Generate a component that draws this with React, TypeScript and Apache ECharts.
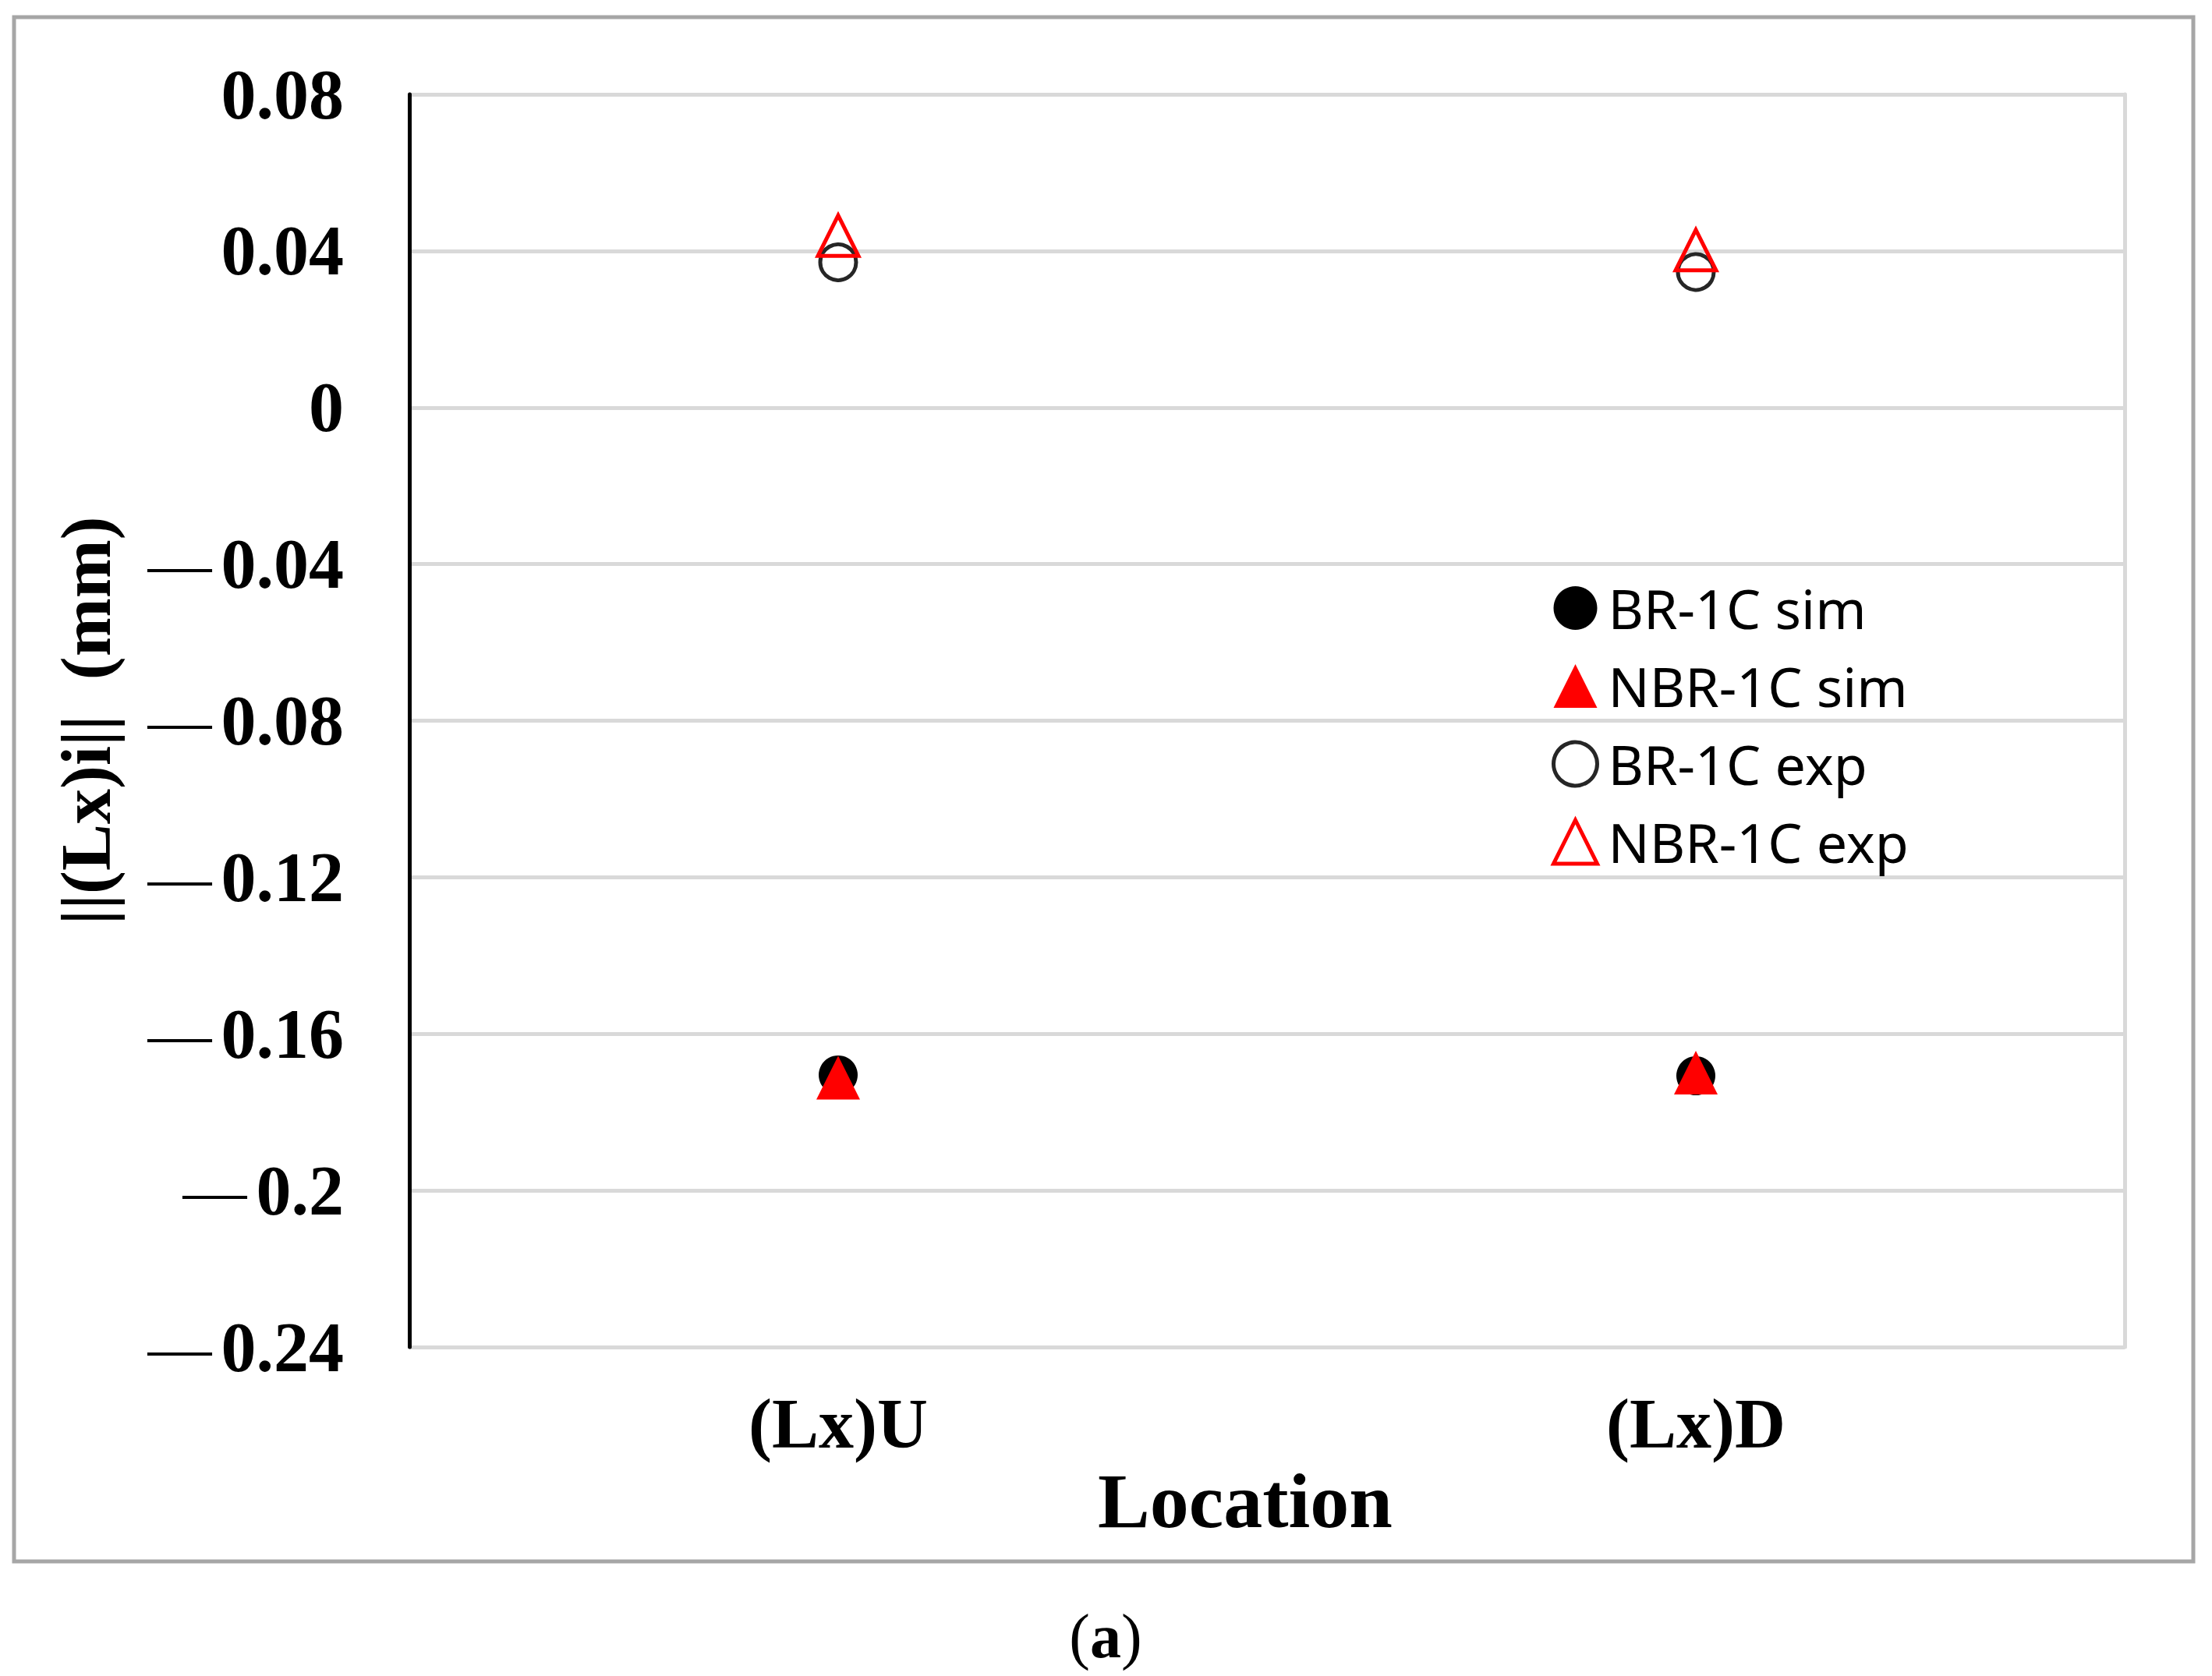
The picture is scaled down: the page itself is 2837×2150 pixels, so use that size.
import { useEffect, useRef } from 'react';
import * as echarts from 'echarts';

// Location categories and values (mm)
const categories = ['(Lx)U', '(Lx)D'];
const brSim = [-0.1705, -0.1707];
const nbrSim = [-0.1712, -0.1699];
const brExp = [0.0371, 0.0346];
const nbrExp = [0.0439, 0.0402];

const seriesNames = ['BR-1C sim', 'NBR-1C sim', 'BR-1C exp', 'NBR-1C exp'];
const yMin = -0.24;
const yMax = 0.08;
const yStep = 0.04;

const SERIF = '"Liberation Serif", "Times New Roman", serif';
const SANS = '"Noto Sans", "Open Sans", sans-serif';

// negative ticks carry a long dash set apart from the digits, as in the original
const formatTick = (v: number) => {
  const s = parseFloat(Math.abs(v).toFixed(2)).toString();
  return v < -1e-9 ? `{d|\u2014}{n|${s}}` : `{n|${s}}`;
};

const hollow = (color: string) => ({
  color: '#ffffff',
  borderColor: color,
  borderWidth: 5,
  opacity: 1,
});

export default function App() {
  const chartRef = useRef<HTMLDivElement>(null);

  useEffect(() => {
    if (!chartRef.current) return;
    const chart = echarts.init(chartRef.current, undefined, { renderer: 'svg' });

    const option: echarts.EChartsOption = {
      animation: false,
      backgroundColor: '#ffffff',
      grid: { left: 525, top: 121, width: 2200, height: 1607 },
      legend: {
        orient: 'vertical',
        left: 1985,
        top: 740,
        itemWidth: 56,
        itemHeight: 56,
        itemGap: 30,
        textStyle: {
          fontFamily: SANS,
          fontSize: 70,
          lineHeight: 56,
          color: '#000',
          padding: [0, 0, 0, 9],
        },
        data: [
          { name: seriesNames[0], icon: 'circle' },
          { name: seriesNames[1], icon: 'triangle' },
          { name: seriesNames[2], icon: 'circle', itemStyle: hollow('#262626') },
          { name: seriesNames[3], icon: 'triangle', itemStyle: hollow('#ff0000') },
        ],
      },
      xAxis: {
        type: 'category',
        data: categories,
        boundaryGap: true,
        axisLine: { show: false },
        axisTick: { show: false },
        splitLine: { show: false },
        axisLabel: {
          margin: 53,
          fontFamily: SERIF,
          fontWeight: 'bold',
          fontSize: 90,
          color: '#000',
        },
        name: 'Location',
        nameLocation: 'middle',
        nameGap: 131,
        nameTextStyle: {
          fontFamily: SERIF,
          fontWeight: 'bold',
          fontSize: 100,
          color: '#000',
          padding: [0, 56, 0, 0],
        },
      },
      yAxis: [
        {
          type: 'value',
          min: yMin,
          max: yMax,
          interval: yStep,
          axisLine: { show: true, lineStyle: { color: '#000', width: 5 } },
          axisTick: { show: false },
          splitLine: { show: true, lineStyle: { color: '#d9d9d9', width: 5 } },
          axisLabel: {
            margin: 84,
            formatter: formatTick,
            fontFamily: SERIF,
            fontWeight: 'bold',
            fontSize: 90,
            color: '#000',
            rich: {
              n: { fontFamily: SERIF, fontWeight: 'bold', fontSize: 90, color: '#000' },
              d: {
                fontFamily: SERIF,
                fontWeight: 'normal',
                fontSize: 82,
                color: '#000',
                padding: [0, 12, 0, 0],
              },
            },
          },
          name: '||(Lx)i||  (mm)',
          nameLocation: 'middle',
          nameGap: 370,
          nameTextStyle: {
            fontFamily: SERIF,
            fontWeight: 'bold',
            fontSize: 90,
            color: '#000',
          },
        },
        {
          // right edge of the plot area
          type: 'value',
          position: 'right',
          min: yMin,
          max: yMax,
          interval: yStep,
          axisLine: { show: true, lineStyle: { color: '#d9d9d9', width: 5 } },
          axisTick: { show: false },
          axisLabel: { show: false },
          splitLine: { show: false },
        },
      ],
      series: [
        {
          name: seriesNames[0],
          type: 'scatter',
          data: brSim,
          symbol: 'circle',
          symbolSize: 50,
          itemStyle: { color: '#000', opacity: 1 },
        },
        {
          name: seriesNames[1],
          type: 'scatter',
          data: nbrSim,
          symbol: 'triangle',
          symbolSize: 56,
          itemStyle: { color: '#ff0000', opacity: 1 },
        },
        {
          name: seriesNames[2],
          type: 'scatter',
          data: brExp,
          symbol: 'circle',
          symbolSize: 46,
          itemStyle: hollow('#262626'),
        },
        {
          name: seriesNames[3],
          type: 'scatter',
          data: nbrExp,
          symbol: 'triangle',
          symbolSize: 52,
          itemStyle: { ...hollow('#ff0000'), color: 'rgba(255,255,255,0)' },
        },
      ],
      graphic: [
        {
          type: 'rect',
          shape: { x: 18, y: 22, width: 2795, height: 1981 },
          style: { fill: 'none', stroke: '#a6a6a6', lineWidth: 5 },
          silent: true,
        },
        {
          type: 'text',
          x: 1418,
          y: 2099,
          style: {
            text: '{n|(}{b|a}{n|)}',
            align: 'center',
            verticalAlign: 'middle',
            rich: {
              n: { fontFamily: SERIF, fontSize: 80, fill: '#000' },
              b: { fontFamily: SERIF, fontSize: 80, fontWeight: 'bold', fill: '#000' },
            },
          },
        },
      ],
    };

    chart.setOption(option);

    return () => {
      chart.dispose();
    };
  }, []);

  return (
    <div
      ref={chartRef}
      style={{ position: 'absolute', left: 0, top: 0, width: 2837, height: 2150 }}
    />
  );
}
